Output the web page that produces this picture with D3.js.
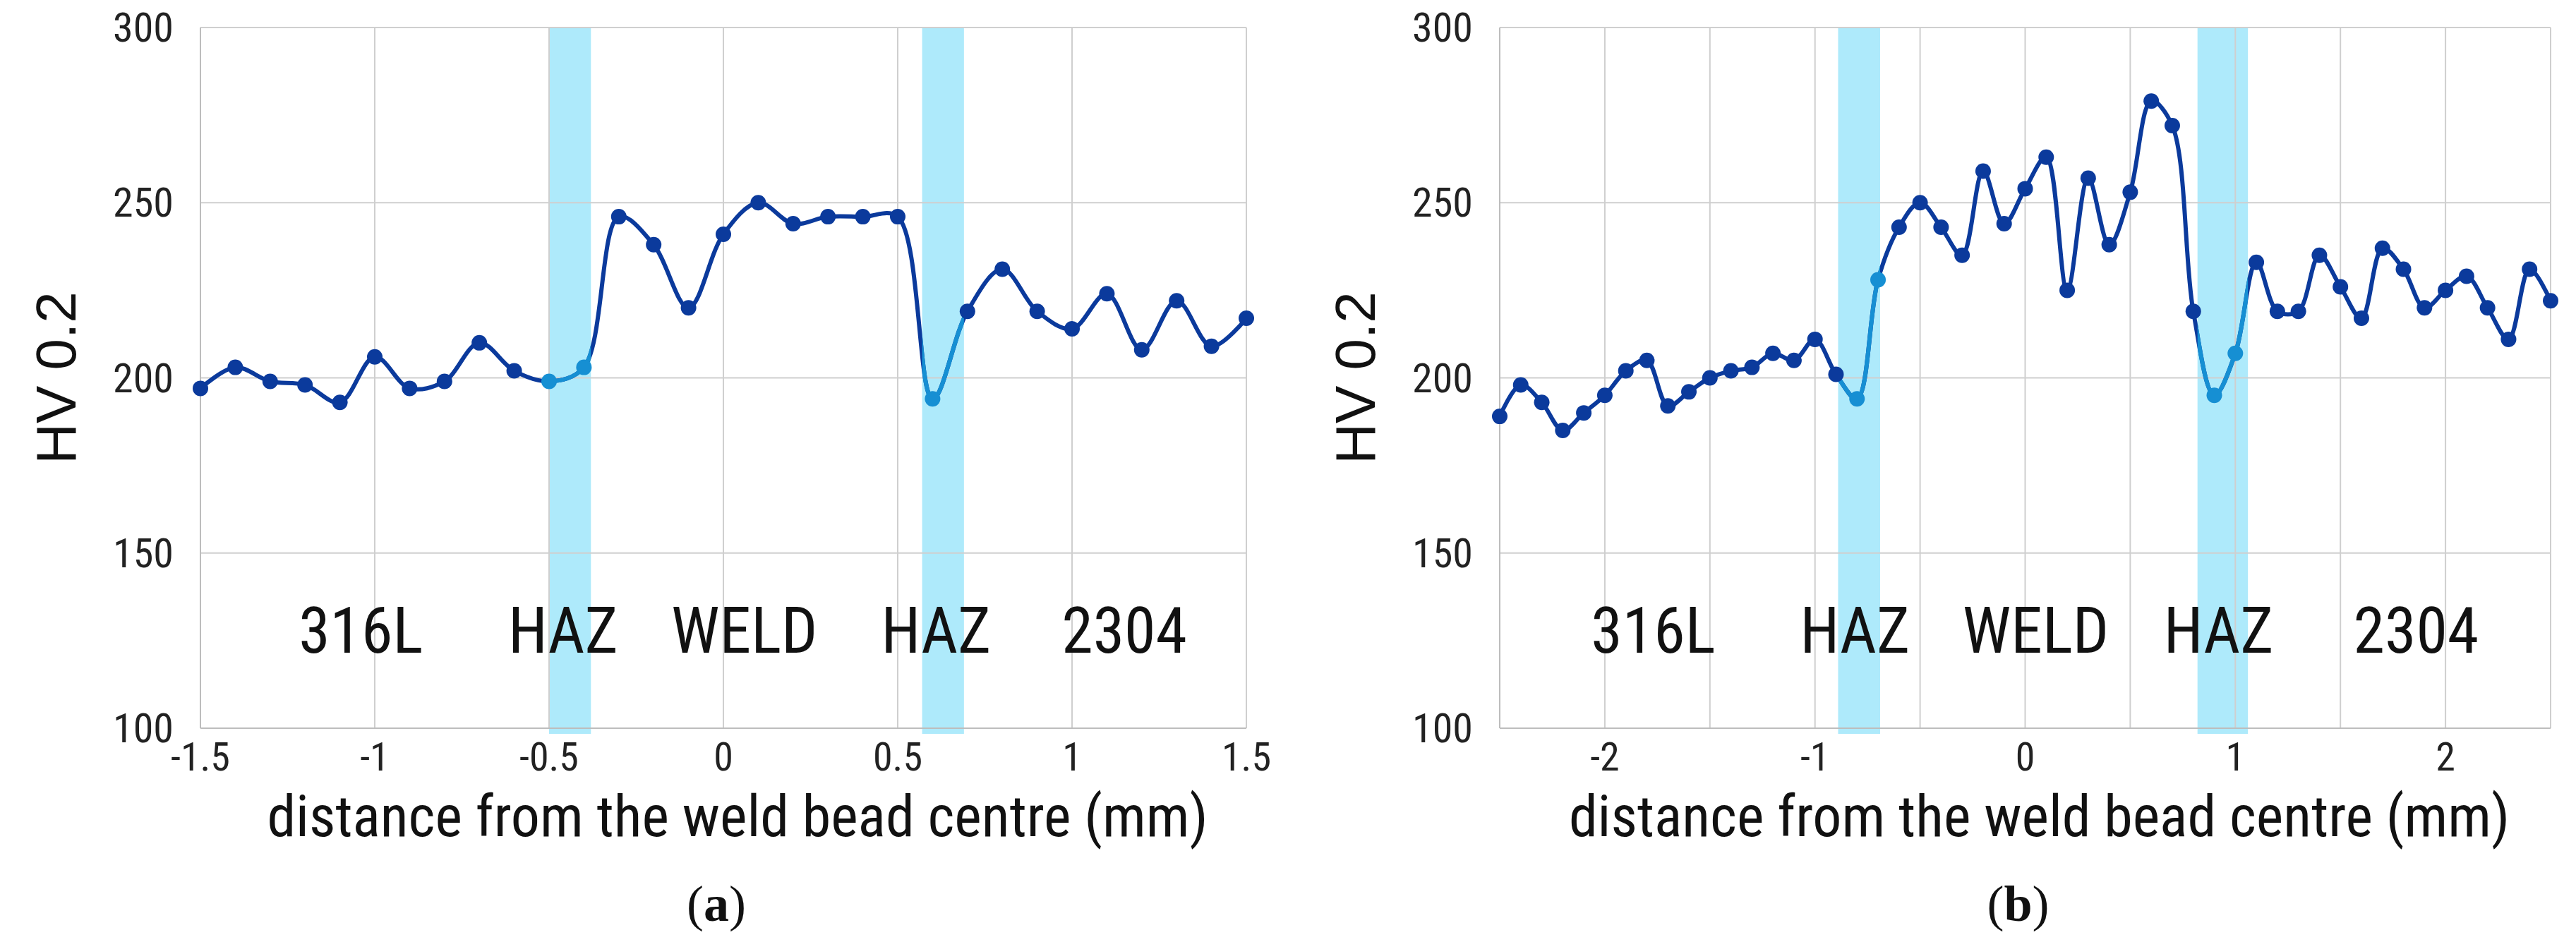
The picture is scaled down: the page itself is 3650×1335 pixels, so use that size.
<!DOCTYPE html>
<html><head><meta charset="utf-8">
<script src="https://cdn.jsdelivr.net/npm/d3@7"></script>
<style>body{margin:0;background:#fff}</style>
</head><body>
<script>
// hardness profiles, HV 0.2
const xsA = d3.range(31).map(i => +(-1.5 + i * 0.1).toFixed(1));
const hvA = [197,203,199,198,193,206,197,199,210,202,199,203,246,238,220,241,250,244,246,246,246,194,219,231,219,214,224,208,222,209,217];
const xsB = d3.range(51).map(i => +(-2.5 + i * 0.1).toFixed(1));
const hvB = [189,198,193,185,190,195,202,205,192,196,200,202,203,207,205,211,201,194,228,243,
             250,243,235,259,244,254,263,225,257,238,253,279,272,219,195,207,233,219,219,235,
             226,217,237,231,220,225,229,220,211,231,222];
const hazA = [[-0.5,-0.38],[0.57,0.69]];
const hazB = [[-0.89,-0.69],[0.82,1.06]];
const zonesA = [["316L",-1.04],["HAZ",-0.46],["WELD",0.06],["HAZ",0.61],["2304",1.15]];
const zonesB = [["316L",-1.77],["HAZ",-0.81],["WELD",0.05],["HAZ",0.92],["2304",1.86]];
const yTicks = [100,150,200,250,300];

const W = 3650, H = 1335;
const svg = d3.select("body").append("svg").attr("width", W).attr("height", H);
const narrow = "'Liberation Sans Narrow','Arial Narrow','Roboto Condensed',sans-serif";

let panel = (cfg) => {
  const x = d3.scaleLinear().domain(cfg.dom).range([cfg.left, cfg.right]);
  const y = d3.scaleLinear().domain([100, 300]).range([1032, 39]);
  const g = svg.append("g");

  // HAZ bands
  g.selectAll(".band").data(cfg.haz).join("rect")
    .attr("x", d => x(d[0])).attr("width", d => x(d[1]) - x(d[0]))
    .attr("y", y(300)).attr("height", y(100) - y(300) + 8)
    .attr("fill", "#aeeafb");

  // grid
  g.selectAll(".vg").data(cfg.grid).join("line")
    .attr("x1", d => x(d)).attr("x2", d => x(d)).attr("y1", y(300)).attr("y2", y(100))
    .attr("stroke", "#cfcfcf").attr("stroke-width", 2);
  g.selectAll(".hg").data(yTicks).join("line")
    .attr("x1", cfg.left).attr("x2", cfg.right).attr("y1", d => y(d)).attr("y2", d => y(d))
    .attr("stroke", "#cfcfcf").attr("stroke-width", 2);
  g.append("line").attr("x1", cfg.left).attr("x2", cfg.left).attr("y1", y(300)).attr("y2", y(100))
    .attr("stroke", "#bdbdbd").attr("stroke-width", 2);
  g.append("line").attr("x1", cfg.left).attr("x2", cfg.right).attr("y1", y(100)).attr("y2", y(100))
    .attr("stroke", "#bdbdbd").attr("stroke-width", 2);

  // tick labels
  g.selectAll(".yl").data(yTicks).join("text")
    .attr("x", cfg.left - 38).attr("y", d => y(d) + 20).attr("text-anchor", "end")
    .attr("font-family", narrow).attr("font-size", 58).attr("fill", "#222").text(d => d);
  g.selectAll(".xl").data(cfg.xTicks).join("text")
    .attr("x", d => x(d)).attr("y", 1092).attr("text-anchor", "middle")
    .attr("font-family", narrow).attr("font-size", 56).attr("fill", "#222").text(d => d);

  // zone labels
  g.selectAll(".zl").data(cfg.zones).join("text")
    .attr("x", d => x(d[1])).attr("y", 925).attr("text-anchor", "middle")
    .attr("font-family", narrow).attr("font-size", 90).attr("fill", "#111").text(d => d[0]);

  // curve
  const pts = cfg.xs.map((d, i) => [d, cfg.hv[i]]);
  const line = d3.line().x(d => x(d[0])).y(d => y(d[1])).curve(d3.curveCatmullRom.alpha(0.5));
  g.append("path").attr("d", line(pts)).attr("fill", "none").attr("stroke", "#0b3a9c").attr("stroke-width", 6);
  const clipId = "clip" + cfg.id;
  const cp = svg.append("defs").append("clipPath").attr("id", clipId);
  cp.selectAll("rect").data(cfg.haz).join("rect")
    .attr("x", d => x(d[0])).attr("width", d => x(d[1]) - x(d[0])).attr("y", 0).attr("height", H);
  g.append("path").attr("d", line(pts)).attr("fill", "none").attr("stroke", "#168fd3")
    .attr("stroke-width", 6).attr("clip-path", `url(#${clipId})`);
  const inHaz = v => cfg.haz.some(h => v >= h[0] - 0.001 && v <= h[1]);
  g.selectAll(".pt").data(pts).join("circle")
    .attr("cx", d => x(d[0])).attr("cy", d => y(d[1])).attr("r", 11)
    .attr("fill", d => inHaz(d[0]) ? "#168fd3" : "#0b3a9c");

  // titles
  const cx = (cfg.left + cfg.right) / 2;
  g.append("text").attr("x", cx + 20).attr("y", 1185).attr("text-anchor", "middle")
    .attr("font-family", narrow).attr("font-size", 82).attr("fill", "#111")
    .text("distance from the weld bead centre (mm)");
  g.append("text").attr("transform", `translate(${cfg.left - 205},${y(200)}) rotate(-90)`)
    .attr("text-anchor", "middle").attr("font-family", "'Liberation Sans',Arial,sans-serif")
    .attr("font-size", 80).attr("fill", "#111").attr("dy", 28).text("HV 0.2");
  const lab = g.append("text").attr("x", cx - 10).attr("y", 1305).attr("text-anchor", "middle")
    .attr("font-family", "'Liberation Serif','Times New Roman',serif").attr("font-size", 72).attr("fill", "#111");
  lab.append("tspan").text("(");
  lab.append("tspan").attr("font-weight", "bold").text(cfg.id);
  lab.append("tspan").text(")");
};

panel({ id: "a", dom: [-1.5, 1.5], left: 284, right: 1766, xs: xsA, hv: hvA, haz: hazA, zones: zonesA,
        grid: d3.range(-1.5, 1.51, 0.5), xTicks: [-1.5, -1, -0.5, 0, 0.5, 1, 1.5] });
panel({ id: "b", dom: [-2.5, 2.5], left: 2125, right: 3614, xs: xsB, hv: hvB, haz: hazB, zones: zonesB,
        grid: d3.range(-2.5, 2.51, 0.5), xTicks: [-2, -1, 0, 1, 2] });
</script>
</body></html>
